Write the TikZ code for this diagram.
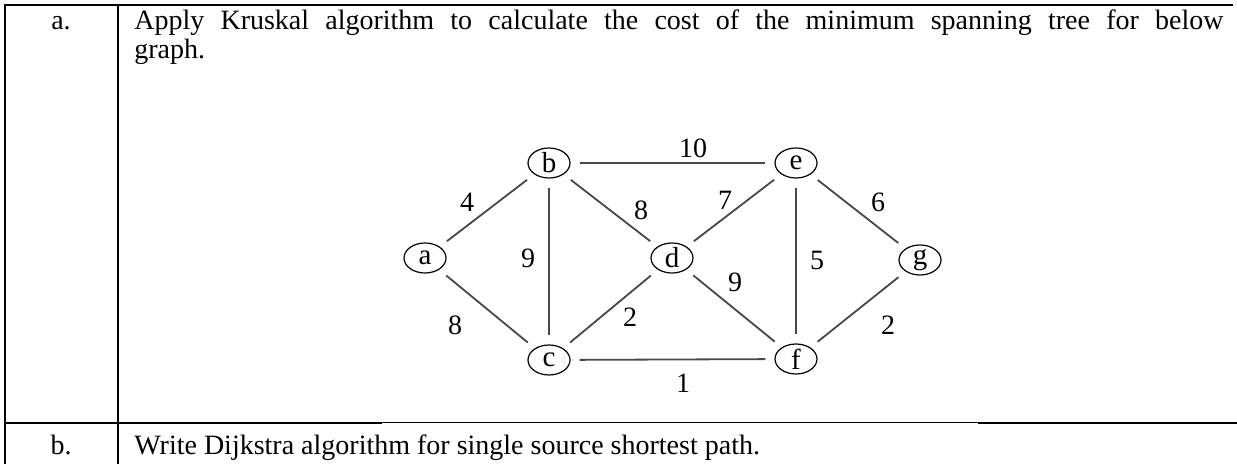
\documentclass[tikz,border=0pt]{standalone}
\usepackage{fontspec}
\setmainfont{Liberation Serif}
\usetikzlibrary{shapes.geometric}

\begin{document}
\begin{tikzpicture}[
			x=0.5pt, y=-0.5pt,
			vertex/.style={draw, ellipse, line width=0.6pt, minimum width=21pt, minimum height=15pt, inner sep=0pt, font=\fontsize{14.5}{14.5}\selectfont},
			link/.style={draw=black!72, line width=0.9pt, shorten <=4.5pt, shorten >=4.5pt},
			wt/.style={font=\fontsize{14}{14}\selectfont, inner sep=0pt},
			rule/.style={line width=1pt},
			cell/.style={font=\fontsize{14}{14.5}\selectfont, inner sep=0pt, anchor=base west}
			]
			\useasboundingbox (0,0) rectangle (1237,464);
			
			% Table
			\draw[rule] (5,464) -- (5,5) -- (1233,5);
			\draw[rule] (118,5) -- (118,464);
			\draw[rule] (5,423) -- (382,423);
			\draw[line width=0.5pt] (382,423) -- (978,423);
			\draw[rule] (978,423) -- (1237,423);
			
			\node[cell, anchor=base] (qa) at (61,30) {a.};
			\node[cell, text width=544.5pt, align=justify] (texta) at (134,30) {Apply Kruskal algorithm to calculate the cost of the minimum spanning tree for below\linebreak graph.};
			
			\node[cell, anchor=base] (qb) at (61,455) {b.};
			\node[cell] (textb) at (134,455) {Write Dijkstra algorithm for single source shortest path.};
			
			% Nodes
			\node[vertex] (a) at (425,258) {a};
			\node[vertex] (b) at (549,163) {b};
			\node[vertex] (c) at (549,360) {c};
			\node[vertex] (d) at (672,258) {d};
			\node[vertex] (e) at (796,163) {e};
			\node[vertex] (f) at (796,359) {f};
			\node[vertex] (g) at (920,260) {g};
			
			% Edges
			\draw[link] (a) -- node[wt, shift={(-20,-8.5)}] {4} (b);
			\draw[link] (a) -- node[wt, shift={(-32,16)}] {8} (c);
			\draw[link] (b) -- node[wt, shift={(-21,-3.5)}] {9} (c);
			\draw[link] (b) -- node[wt, shift={(20.5,-15)}] {10} (e);
			\draw[link] (b) -- node[wt, shift={(30.5,0)}] {8} (d);
			\draw[link] (c) -- node[wt, shift={(19.5,8)}] {2} (d);
			\draw[link] (c) -- node[wt, shift={(10.5,23.5)}] {1} (f);
			\draw[link] (d) -- node[wt, shift={(-9,-10.5)}] {7} (e);
			\draw[link] (d) -- node[wt, shift={(1,-26.5)}] {9} (f);
			\draw[link] (e) -- node[wt, shift={(21,-1)}] {5} (f);
			\draw[link] (e) -- node[wt, shift={(20,-9.5)}] {6} (g);
			\draw[link] (f) -- node[wt, shift={(30,15.5)}] {2} (g);
			
		\end{tikzpicture}
\end{document}
